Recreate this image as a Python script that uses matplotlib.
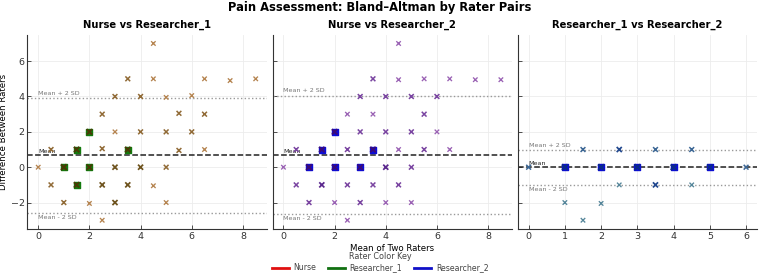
import numpy as np
import matplotlib
matplotlib.use("Agg")
import matplotlib.pyplot as plt
from matplotlib.lines import Line2D

# === Data (mean of raters, difference, how many overlap) ===
titles = ["Nurse vs Researcher_1", "Nurse vs Researcher_2", "Researcher_1 vs Researcher_2"]

nr1_mean = [4.5, 3.5, 4.5, 6.5, 7.5, 8.5, 3, 4, 5, 6, 2.5, 5.5, 6.5,
            2, 3, 4, 5, 6, 0.5, 1.5, 2.5, 3.5, 5.5, 6.5,
            0, 1, 2, 3, 4, 5, 0.5, 1.5, 2.5, 3.5, 4.5, 1, 2, 3, 5, 2.5]
nr1_diff = [7, 5, 5, 5, 4.9, 5, 4, 4, 3.95, 4.05, 3, 3.05, 3,
            2, 2, 2, 2, 2, 1, 1, 1.05, 1, 0.95, 1,
            0, 0, 0, 0, 0, 0, -1, -1, -1, -1, -1.05, -2, -2.05, -2, -2, -3]
nr1_n = [1, 2, 1, 1, 1, 1, 2, 2, 1, 1, 2, 2, 2,
         4, 1, 2, 2, 2, 2, 4, 2, 4, 2, 1,
         1, 5, 4, 3, 3, 2, 2, 4, 3, 3, 1, 2, 1, 3, 1, 1]

nr2_mean = [4.5, 3.5, 4.5, 5.5, 6.5, 7.5, 8.5, 3, 4, 5, 6, 2.5, 3.5, 5.5,
            2, 3, 4, 5, 6, 0.5, 1.5, 2.5, 3.5, 4.5, 5.5, 6.5,
            0, 1, 2, 3, 4, 5, 0.5, 1.5, 2.5, 3.5, 4.5, 1, 2, 3, 4, 5, 2.5]
nr2_diff = [7, 5, 4.95, 5, 5, 4.95, 4.95, 4, 4, 4, 4, 3, 3, 3,
            2, 2, 2, 2, 2, 1, 1, 1, 1, 1, 1, 1,
            0, 0, 0, 0, 0, 0, -1, -1, -1, -1, -1, -2, -2, -2, -2, -2, -3]
nr2_n = [1, 2, 1, 1, 1, 1, 1, 2, 2, 2, 2, 1, 1, 2,
         4, 2, 2, 2, 1, 2, 4, 2, 4, 1, 2, 1,
         1, 5, 4, 4, 3, 2, 2, 3, 2, 2, 2, 2, 1, 2, 1, 1, 1]

rr_mean = [1.5, 2.5, 3.5, 4.5, 0, 1, 2, 3, 4, 5, 6, 2.5, 3.5, 4.5, 1, 2, 1.5]
rr_diff = [1, 1, 1, 1, 0, 0, 0, 0, 0, 0, 0, -1, -1, -1, -2, -2.05, -3]
rr_n = [2, 3, 2, 2, 2, 5, 5, 5, 5, 4, 2, 1, 3, 1, 1, 1, 1]

# bias lines (mean, mean +/- 2 SD)
bias_mean = [0.68, 0.68, 0.0]
bias_upper = [3.93, 4.05, 0.97]
bias_lower = [-2.57, -2.65, -0.98]

rater_names = ["Nurse", "Researcher_1", "Researcher_2"]
rater_colors = ["#e01010", "#117011", "#1010c8"]

# light / heavy colours of the cross markers in each panel
light_cols = ["#b58450", "#9a62b4", "#55869a"]
dark_cols = ["#4a3a05", "#3a0a7a", "#0a2a8a"]
square_cols = ["#137a0e", "#0c0cd8", "#0c0cd8"]

panels = [(nr1_mean, nr1_diff, nr1_n), (nr2_mean, nr2_diff, nr2_n), (rr_mean, rr_diff, rr_n)]


def mix(c1, c2, t):
    a = np.array(matplotlib.colors.to_rgb(c1))
    b = np.array(matplotlib.colors.to_rgb(c2))
    return tuple(a * (1 - t) + b * t)


fig, axes = plt.subplots(1, 3, figsize=(7.6, 2.77), dpi=100, sharey=True)
fig.subplots_adjust(left=0.036, right=0.996, top=0.875, bottom=0.173, wspace=0.025)

for i, ax in enumerate(axes):
    xs, ys, ns = panels[i]
    xs = np.array(xs, dtype=float)
    ys = np.array(ys, dtype=float)
    ns = np.array(ns)

    heavy = ns >= 4
    ax.scatter(xs[heavy], ys[heavy], marker="s", s=22, color=square_cols[i], zorder=3)
    cols = [mix(light_cols[i], dark_cols[i], min(n - 1, 3) / 3) for n in ns]
    ax.scatter(xs, ys, marker="x", s=9 + 1.5 * ns, linewidths=0.8 + 0.15 * ns,
               color=cols, zorder=4)

    ax.axhline(bias_mean[i], color="#222222", ls="--", lw=1.1, zorder=2)
    ax.axhline(bias_upper[i], color="#999999", ls=":", lw=1.0, zorder=2)
    ax.axhline(bias_lower[i], color="#999999", ls=":", lw=1.0, zorder=2)
    x0 = xs.min()
    ax.text(x0, bias_upper[i] + 0.12, "Mean + 2 SD", fontsize=4.6, color="#777777", va="bottom")
    ax.text(x0, bias_mean[i] + 0.06, "Mean", fontsize=4.6, color="#222222", va="bottom")
    ax.text(x0, bias_lower[i] - 0.12, "Mean - 2 SD", fontsize=4.6, color="#777777", va="top")

    ax.set_title(titles[i], fontsize=7.2, fontweight="bold", pad=5)
    ax.grid(True, color="#ececec", lw=0.6)
    ax.set_axisbelow(True)
    for side in ["top", "right"]:
        ax.spines[side].set_visible(False)
    for side in ["left", "bottom"]:
        ax.spines[side].set_color("#333333")
        ax.spines[side].set_linewidth(0.8)
    ax.tick_params(labelsize=6.8, length=3, width=0.6, pad=2, direction="in", colors="#333333")
    ax.margins(x=0.05, y=0.05)

axes[0].set_yticks([-2, 0, 2, 4, 6])
axes[0].set_ylabel("Difference Between Raters", fontsize=6.2, labelpad=2)
axes[1].set_xlabel("Mean of Two Raters", fontsize=6.2, labelpad=2)

fig.suptitle("Pain Assessment: Bland–Altman by Rater Pairs", fontsize=8.3, fontweight="bold", y=0.995)

handles = [Line2D([0], [0], color=c, lw=2) for c in rater_colors]
leg = fig.legend(handles, rater_names, title="Rater Color Key", loc="lower center",
                 ncol=3, frameon=False, fontsize=5.6, title_fontsize=5.8,
                 bbox_to_anchor=(0.5, 0.0), handlelength=2.2, columnspacing=1.5,
                 borderpad=0.1, labelspacing=0.1, handletextpad=0.6)
leg._legend_box.sep = 2
for t in leg.get_texts():
    t.set_color("#444444")
leg.get_title().set_color("#444444")

plt.savefig("out.png", dpi=100)
